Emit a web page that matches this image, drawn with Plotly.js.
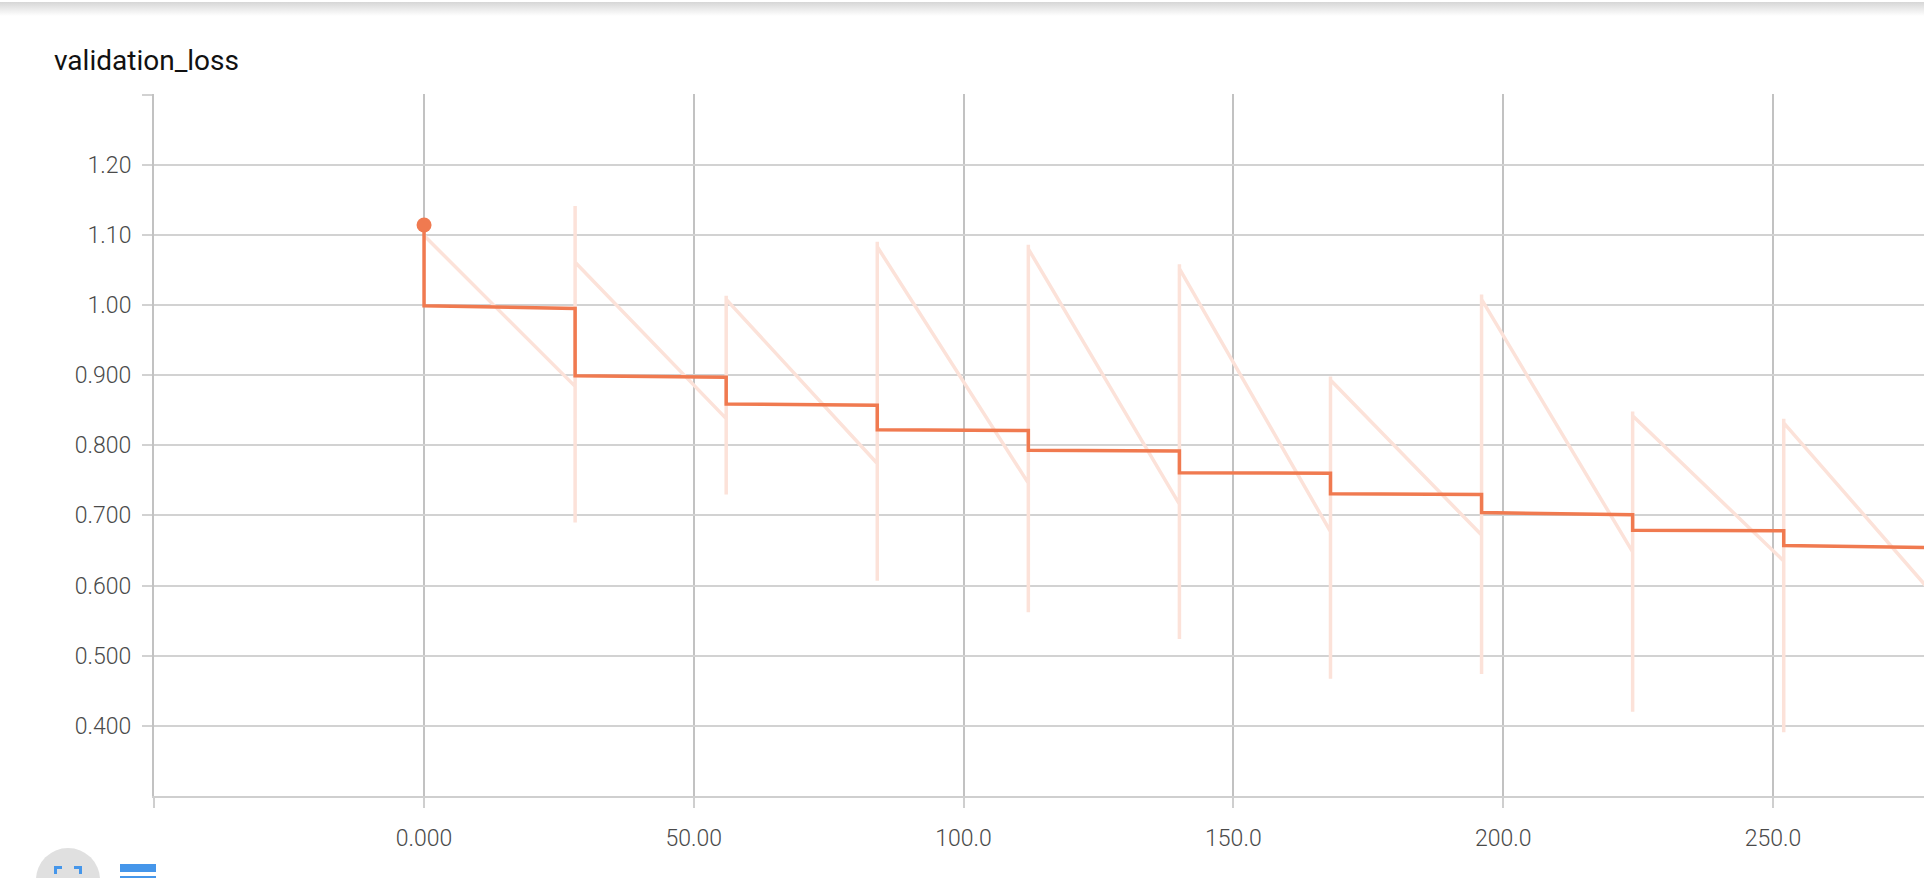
<!DOCTYPE html>
<html>
<head>
<meta charset="utf-8">
<script src="https://cdn.plot.ly/plotly-3.0.1.min.js"></script>
<style>
  html, body { margin: 0; padding: 0; background: #fff; overflow: hidden; }
  #wrap { position: relative; width: 1924px; height: 878px; }
  #chart { position: absolute; left: 0; top: 0; width: 1924px; height: 878px; }
  #shadow { position: absolute; left: 0; top: 2px; width: 1924px; height: 14px;
            background: linear-gradient(#d6d6d6, rgba(255,255,255,0)); z-index: 5; }
  #btn1 { position: absolute; left: 36px; top: 848px; width: 64px; height: 64px;
          border-radius: 50%; background: #e0e0e0; z-index: 5; }
  .corner { position: absolute; width: 5px; height: 5px; border-color: #4596ea; border-style: solid; }
  #c1 { left: 18px; top: 18px; border-width: 3px 0 0 3px; }
  #c2 { left: 38px; top: 18px; border-width: 3px 3px 0 0; }
  .bar { position: absolute; left: 120px; width: 36px; height: 8px; background: #4596ea; z-index: 5; }
</style>
</head>
<body>
<div id="wrap">
  <div id="chart"></div>
  <div id="shadow"></div>
  <div id="btn1"><div class="corner" id="c1"></div><div class="corner" id="c2"></div></div>
  <div class="bar" style="top:864px"></div>
  <div class="bar" style="top:876px"></div>
</div>
<script>
// ---- Data ----
const chartTitle = "validation_loss";

// Raw (light) series: step, value in drawing order
const rawSteps = [0, 28, 28, 28, 28, 56, 56, 56, 56, 84, 84, 84, 84, 112, 112, 112, 112,
                  140, 140, 140, 140, 168, 168, 168, 168, 196, 196, 196, 196, 224, 224, 224, 224,
                  252, 252, 252, 252, 280];
const rawValues = [1.099, 0.884, 0.690, 1.141, 1.061, 0.838, 0.730, 1.013, 1.008, 0.774, 0.607, 1.090, 1.083,
                   0.746, 0.562, 1.086, 1.080, 0.716, 0.524, 1.058, 1.052, 0.677, 0.467, 0.898, 0.893,
                   0.672, 0.474, 1.015, 1.008, 0.648, 0.420, 0.848, 0.842, 0.635, 0.391, 0.838, 0.832, 0.585];

// Smoothed (dark) series
const smoothSteps = [0, 0, 28, 28, 56, 56, 84, 84, 112, 112, 140, 140, 168, 168, 196, 196, 224, 224, 252, 252, 280];
const smoothValues = [1.114, 0.999, 0.995, 0.899, 0.897, 0.859, 0.857, 0.822, 0.821, 0.793, 0.792, 0.761,
                      0.760, 0.731, 0.730, 0.704, 0.701, 0.679, 0.678, 0.657, 0.654];

// Highlighted first point
const markerStep = [0];
const markerValue = [1.114];

// Tick labels
const xTickVals = [-50, 0, 50, 100, 150, 200, 250];
const xTickText = ["", "0.000", "50.00", "100.0", "150.0", "200.0", "250.0"];
const yTickVals = [0.4, 0.5, 0.6, 0.7, 0.8, 0.9, 1.0, 1.1, 1.2, 1.3];
const yTickText = ["0.400", "0.500", "0.600", "0.700", "0.800", "0.900", "1.00", "1.10", "1.20", ""];

const orange = "#f07a50";
const paleOrange = "#fce2d9";

const traces = [
  { x: rawSteps, y: rawValues, type: "scatter", mode: "lines",
    line: { color: paleOrange, width: 3.5 }, hoverinfo: "skip", showlegend: false },
  { x: smoothSteps, y: smoothValues, type: "scatter", mode: "lines",
    line: { color: orange, width: 3.5 }, hoverinfo: "skip", showlegend: false },
  { x: markerStep, y: markerValue, type: "scatter", mode: "markers",
    marker: { color: orange, size: 15 }, hoverinfo: "skip", showlegend: false }
];

const tickFont = { family: "Roboto, 'Liberation Sans', sans-serif", size: 23, color: "#4a4a4a", weight: 300 };

const layout = {
  width: 1924, height: 878, autosize: false,
  margin: { l: 154, r: 0, t: 94, b: 82, pad: 0 },
  paper_bgcolor: "#ffffff", plot_bgcolor: "#ffffff",
  showlegend: false,
  title: {
    text: chartTitle,
    font: { family: "Roboto, sans-serif", size: 28, color: "#111111" },
    xref: "container", yref: "container",
    x: 54 / 1924, xanchor: "left",
    y: 1 - 60 / 878, yanchor: "middle"
  },
  xaxis: {
    range: [-50.05, 278],
    tickmode: "array", tickvals: xTickVals, ticktext: xTickText,
    showgrid: true, gridcolor: "#c2c2c2", gridwidth: 2,
    zeroline: false,
    showline: true, linecolor: "#cfcfcf", linewidth: 2,
    ticks: "outside", ticklen: 10, tickwidth: 2, tickcolor: "#cfcfcf",
    ticklabelstandoff: 10,
    tickfont: tickFont, fixedrange: true
  },
  yaxis: {
    range: [0.3, 1.3008],
    tickmode: "array", tickvals: yTickVals, ticktext: yTickText,
    showgrid: true, gridcolor: "#d2d2d2", gridwidth: 2,
    zeroline: false,
    showline: true, linecolor: "#c2c2c2", linewidth: 2,
    ticks: "outside", ticklen: 10, tickwidth: 2, tickcolor: "#d2d2d2",
    ticklabelstandoff: 6,
    tickfont: tickFont, fixedrange: true
  }
};

Plotly.newPlot("chart", traces, layout, { staticPlot: true, displayModeBar: false });
</script>
</body>
</html>
